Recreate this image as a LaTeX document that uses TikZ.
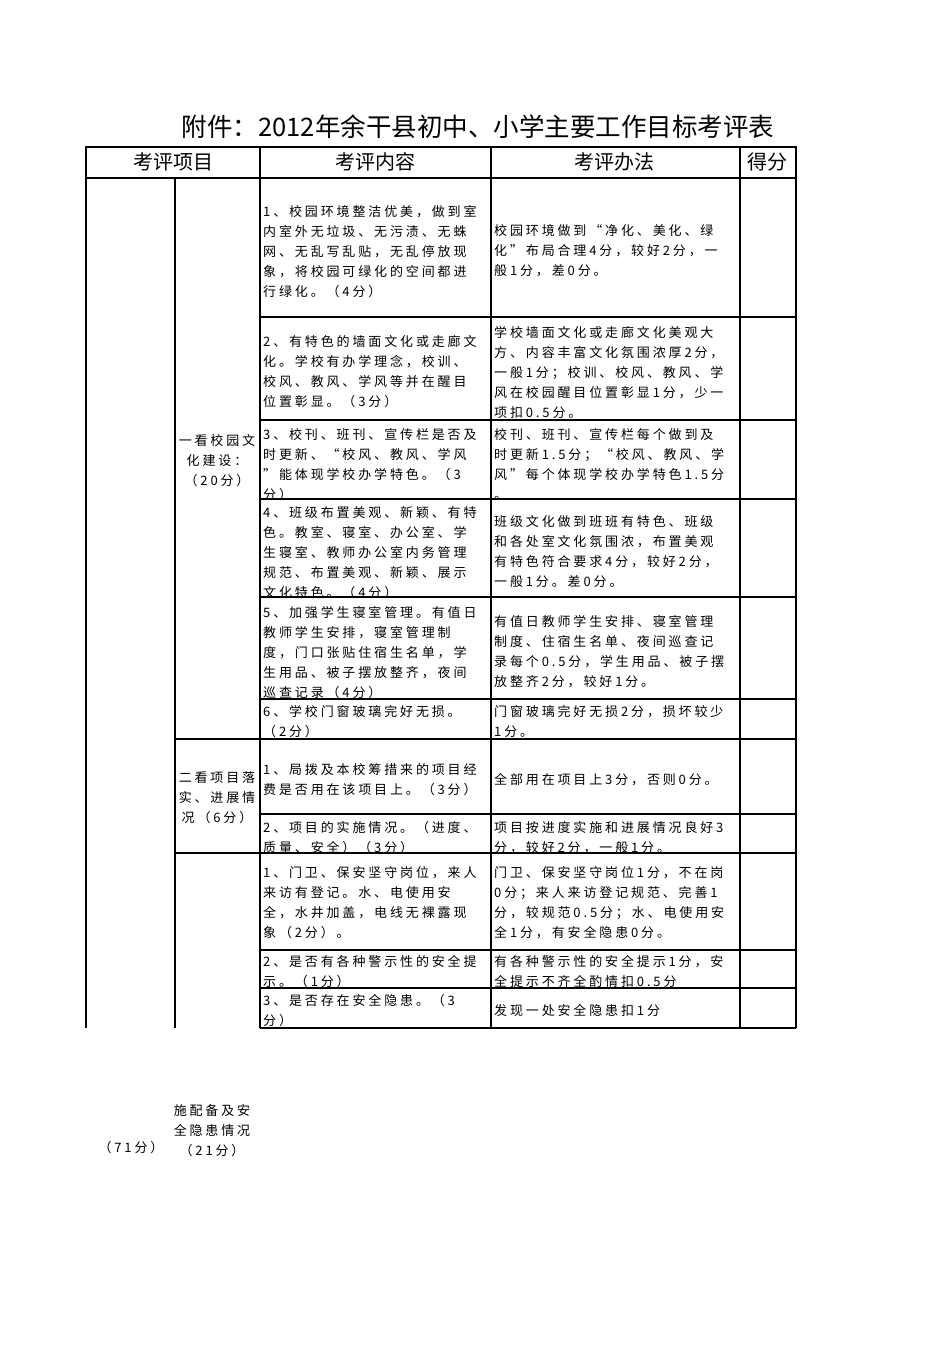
\documentclass[tikz,border=0pt]{standalone}
\usepackage{fontspec}
\newfontfamily\cjk[LetterSpace=22]{Noto Sans CJK SC}
\newfontfamily\cjkt{Noto Sans CJK SC}
\begin{document}
\begin{tikzpicture}[x=1pt,y=-1pt,
  grid/.style={line width=1.1pt,black},
  txt/.style={anchor=north west,inner sep=0pt,align=left,font=\cjk\fontsize{13}{20}\selectfont},
  ctr/.style={anchor=north,inner sep=0pt,align=center,font=\cjk\fontsize{13}{20}\selectfont},
  hd/.style={inner sep=0pt,font=\cjkt\fontsize{20}{24}\selectfont}]
\useasboundingbox (0,0) rectangle (950,1345);
\newcommand\cell[4][txt]{\node[#1] at (#2,#3-7) {#4};}
% title
\node[hd,font=\cjkt\fontsize{25.5}{28}\selectfont] (title) at (478,127) {附件：2012年余干县初中、小学主要工作目标考评表};
% headers
\node[hd] (h1) at (173,162) {考评项目};
\node[hd] (h2) at (375,162) {考评内容};
\node[hd] (h3) at (614,162) {考评办法};
\node[hd] (h4) at (767,162) {得分};
% col3 and col4 texts
\cell{263}{212}{1、校园环境整洁优美，做到室\\内室外无垃圾、无污渍、无蛛\\网、无乱写乱贴，无乱停放现\\象，将校园可绿化的空间都进\\行绿化。（4分）}
\cell{494}{231}{校园环境做到“净化、美化、绿\\化”布局合理4分，较好2分，一\\般1分，差0分。}
\cell{263}{342}{2、有特色的墙面文化或走廊文\\化。学校有办学理念，校训、\\校风、教风、学风等并在醒目\\位置彰显。（3分）}
\cell{494}{333}{学校墙面文化或走廊文化美观大\\方、内容丰富文化氛围浓厚2分，\\一般1分；校训、校风、教风、学\\风在校园醒目位置彰显1分，少一\\项扣0.5分。}
\cell{263}{435}{3、校刊、班刊、宣传栏是否及\\时更新、“校风、教风、学风\\”能体现学校办学特色。（3\\分）}
\cell{494}{435}{校刊、班刊、宣传栏每个做到及\\时更新1.5分；“校风、教风、学\\风”每个体现学校办学特色1.5分\\。}
\cell{263}{513}{4、班级布置美观、新颖、有特\\色。教室、寝室、办公室、学\\生寝室、教师办公室内务管理\\规范、布置美观、新颖、展示\\文化特色。（4分）}
\cell{494}{522}{班级文化做到班班有特色、班级\\和各处室文化氛围浓，布置美观\\有特色符合要求4分，较好2分，\\一般1分。差0分。}
\cell{263}{613}{5、加强学生寝室管理。有值日\\教师学生安排，寝室管理制\\度，门口张贴住宿生名单，学\\生用品、被子摆放整齐，夜间\\巡查记录（4分）}
\cell{494}{622}{有值日教师学生安排、寝室管理\\制度、住宿生名单、夜间巡查记\\录每个0.5分，学生用品、被子摆\\放整齐2分，较好1分。}
\cell{263}{712}{6、学校门窗玻璃完好无损。\\（2分）}
\cell{494}{712}{门窗玻璃完好无损2分，损坏较少\\1分。}
\cell{263}{770}{1、局拨及本校筹措来的项目经\\费是否用在该项目上。（3分）}
\cell{494}{780}{全部用在项目上3分，否则0分。}
\cell{263}{828}{2、项目的实施情况。（进度、\\质量、安全）（3分）}
\cell{494}{828}{项目按进度实施和进展情况良好3\\分，较好2分，一般1分。}
\cell{263}{873}{1、门卫、保安坚守岗位，来人\\来访有登记。水、电使用安\\全，水井加盖，电线无裸露现\\象（2分）。}
\cell{494}{873}{门卫、保安坚守岗位1分，不在岗\\0分；来人来访登记规范、完善1\\分，较规范0.5分；水、电使用安\\全1分，有安全隐患0分。}
\cell{263}{962}{2、是否有各种警示性的安全提\\示。（1分）}
\cell{494}{962}{有各种警示性的安全提示1分，安\\全提示不齐全酌情扣0.5分}
\cell{263}{1001}{3、是否存在安全隐患。（3\\分）}
\cell{494}{1011}{发现一处安全隐患扣1分}
% col2 labels
\cell[ctr]{217}{441}{一看校园文\\化建设：\\（20分）}
\cell[ctr]{217}{778}{二看项目落\\实、进展情\\况（6分）}
\cell[ctr]{212}{1111}{施配备及安\\全隐患情况\\（21分）}
\cell[ctr]{131}{1148}{（71分）}
% grid
\draw[grid] (86,147) rectangle (796,178);
\draw[grid] (260,147) -- (260,1028);
\draw[grid] (491,147) -- (491,1028);
\draw[grid] (740,147) -- (740,1028);
\draw[grid] (796,178) -- (796,1028);
\draw[grid] (86,178) -- (86,1028);
\draw[grid] (175,178) -- (175,1028);
\foreach \yy in {317,420,499,597,699,814,950,988,1028}
  \draw[grid] (260,\yy) -- (796,\yy);
\draw[grid] (175,739) -- (796,739);
\draw[line width=1.6pt] (175,853) -- (796,853);
\end{tikzpicture}
\end{document}
